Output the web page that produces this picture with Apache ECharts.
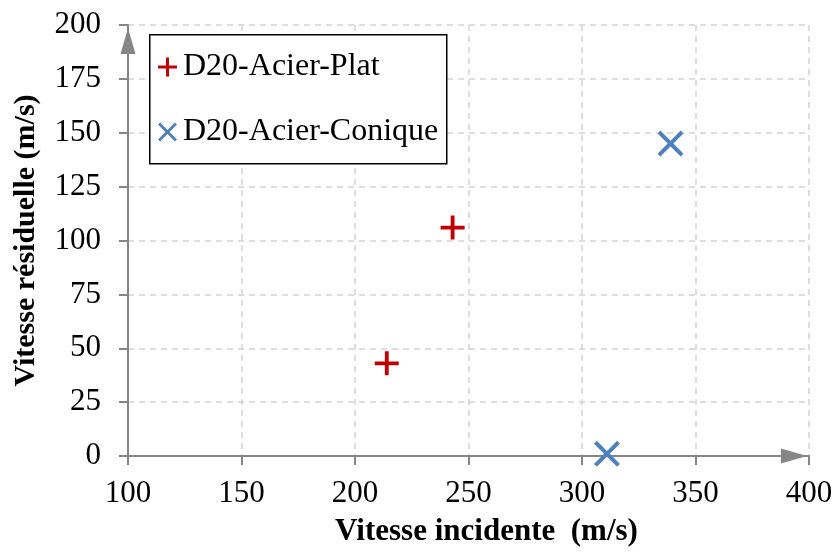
<!DOCTYPE html>
<html>
<head>
<meta charset="utf-8">
<script src="https://cdn.jsdelivr.net/npm/echarts@6/dist/echarts.min.js"></script>
<style>
  html, body { margin: 0; padding: 0; background: #ffffff; }
  #chart { width: 836px; height: 552px; }
</style>
</head>
<body>
<div id="chart"></div>
<script>
// Impact tests: incident velocity vs residual velocity (m/s)
const seriesNames = ['D20-Acier-Plat', 'D20-Acier-Conique'];
const platIncident = [214, 243];
const platResidual = [43, 106];
const coniqueIncident = [311, 339];
const coniqueResidual = [1, 145];

const xTitle = 'Vitesse incidente  (m/s)';
const yTitle = 'Vitesse résiduelle (m/s)';

const serif = '"Liberation Serif", "Times New Roman", serif';
const PLUS = 'path://M8.4,0 H11.6 V8.4 H20 V11.6 H11.6 V20 H8.4 V11.6 H0 V8.4 H8.4 Z';
const CROSS = 'path://M0,2.2 L2.2,0 L10,7.8 L17.8,0 L20,2.2 L12.2,10 L20,17.8 L17.8,20 L10,12.2 L2.2,20 L0,17.8 L7.8,10 Z';
const RED = '#C00000';
const BLUE = '#4F81BD';
const AXIS = '#868686';

function pairs(xs, ys) { return xs.map((x, i) => [x, ys[i]]); }

const chart = echarts.init(document.getElementById('chart'), null, { renderer: 'canvas' });
chart.setOption({
  animation: false,
  backgroundColor: '#ffffff',
  grid: { left: 128, right: 27, top: 25, bottom: 94, containLabel: false },
  graphic: [{
    type: 'rect',
    left: 149, top: 34,
    shape: { width: 297, height: 129 },
    style: { fill: '#ffffff', stroke: '#000000', lineWidth: 1.5 },
    z: 5
  }],
  legend: {
    orient: 'vertical',
    left: 158, top: 51,
    padding: 0,
    itemWidth: 19, itemHeight: 19,
    itemGap: 33,
    z: 6,
    textStyle: { fontFamily: serif, fontSize: 32, color: '#000000', padding: [0, 0, 0, 1] },
    data: [
      { name: seriesNames[0], icon: PLUS, itemStyle: { color: RED } },
      { name: seriesNames[1], icon: CROSS, itemStyle: { color: BLUE } }
    ]
  },
  xAxis: {
    type: 'value', min: 100, max: 400, interval: 50,
    name: xTitle, nameLocation: 'middle', nameGap: 60,
    nameTextStyle: { fontFamily: serif, fontSize: 31, fontWeight: 'bold', color: '#000000', padding: [0, 0, 0, 36] },
    axisLine: { show: true, onZero: false, symbol: ['none', 'triangle'], symbolSize: [15, 26], symbolOffset: [0, -15],
      lineStyle: { color: AXIS, width: 2 } },
    axisTick: { show: true, inside: false, length: 9, lineStyle: { color: AXIS, width: 2 } },
    axisLabel: { margin: 22, fontFamily: serif, fontSize: 31, color: '#000000' },
    splitLine: { show: true, lineStyle: { color: '#d4d4d4', width: 1.5, type: [6, 5] } }
  },
  yAxis: {
    type: 'value', min: 0, max: 200, interval: 25,
    name: yTitle, nameLocation: 'middle', nameGap: 87,
    nameTextStyle: { fontFamily: serif, fontSize: 30, fontWeight: 'bold', color: '#000000' },
    axisLine: { show: true, onZero: false, symbol: ['none', 'triangle'], symbolSize: [15, 26], symbolOffset: [0, -16],
      lineStyle: { color: AXIS, width: 2 } },
    axisTick: { show: true, inside: false, length: 9, lineStyle: { color: AXIS, width: 2 } },
    axisLabel: { margin: 27, fontFamily: serif, fontSize: 31, color: '#000000' },
    splitLine: { show: true, lineStyle: { color: '#d4d4d4', width: 1.5, type: [6, 5] } }
  },
  series: [
    {
      name: seriesNames[0], type: 'scatter',
      symbol: PLUS, symbolSize: 24,
      itemStyle: { color: RED, opacity: 1 },
      data: pairs(platIncident, platResidual), z: 4
    },
    {
      name: seriesNames[1], type: 'scatter',
      symbol: CROSS, symbolSize: 26,
      itemStyle: { color: BLUE, opacity: 1 },
      data: pairs(coniqueIncident, coniqueResidual), z: 4
    }
  ]
});
</script>
</body>
</html>
